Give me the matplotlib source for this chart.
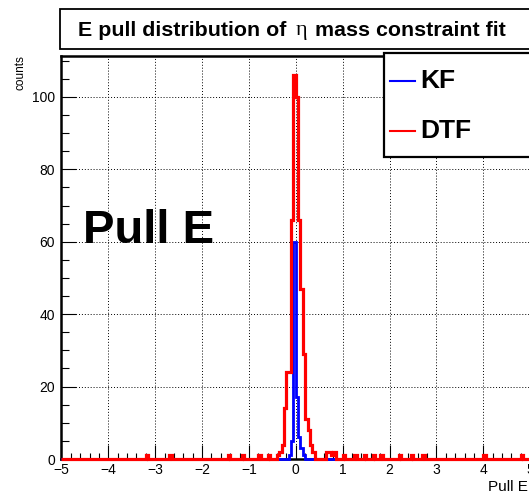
import numpy as np
import matplotlib
matplotlib.use("Agg")
import matplotlib.pyplot as plt
from matplotlib.patches import Rectangle
from matplotlib.lines import Line2D
from matplotlib.ticker import MultipleLocator

plt.rcParams['font.family'] = ['Liberation Sans', 'DejaVu Sans']

# histogram binning: 200 bins of 0.05 between -5 and 5
x_lo, x_hi, n_bins = -5.0, 5.0, 200

# DTF (red): lower edge of every non-empty bin and its count
dtf_lo = [-3.2, -2.7, -1.45, -1.15, -0.8, -0.6, -0.4, -0.35, -0.3, -0.25, -0.2, -0.15,
          -0.1, -0.05, 0.0, 0.05, 0.1, 0.15, 0.2, 0.25, 0.3, 0.35, 0.65, 0.7, 0.75,
          0.8, 1.0, 1.25, 1.45, 1.65, 1.8, 2.2, 2.45, 2.7, 4.0, 4.8]
dtf_n = [1, 1, 1, 1, 1, 1, 1, 2, 4, 14, 24, 24,
         66, 106, 100, 66, 47, 29, 11, 8, 4, 2, 2, 2, 1,
         2, 1, 1, 1, 1, 1, 1, 1, 1, 1, 1]

# KF (blue)
kf_lo = [-0.15, -0.1, -0.05, 0.0, 0.05, 0.1, 0.15]
kf_n = [1, 5, 60, 17, 6, 3, 1]

W, H = 529, 494


def fx(px):
    return px / W


def fy(py):
    return 1 - py / H


def fill_bins(lo, n):
    counts = np.zeros(n_bins)
    idx = np.round((np.array(lo) - x_lo) / (x_hi - x_lo) * n_bins).astype(int)
    counts[idx] = n
    return counts


edges = np.linspace(x_lo, x_hi, n_bins + 1)
dtf = fill_bins(dtf_lo, dtf_n)
kf = fill_bins(kf_lo, kf_n)

fig = plt.figure(figsize=(W / 100, H / 100), dpi=100)
ax = fig.add_axes([fx(61.4), fy(459), (530.2 - 61.4) / W, (459 - 56) / H])

# red drawn last so its empty bins cover the blue baseline
ax.stairs(kf, edges, color='blue', lw=2.0, zorder=3, clip_on=False)
ax.stairs(dtf, edges, color='red', lw=2.3, zorder=4, clip_on=False)

ax.set_xlim(x_lo, x_hi)
ax.set_ylim(0, 1.05 * max(dtf))
ax.xaxis.set_major_locator(MultipleLocator(1))
ax.xaxis.set_minor_locator(MultipleLocator(0.2))
ax.yaxis.set_major_locator(MultipleLocator(20))
ax.yaxis.set_minor_locator(MultipleLocator(5))
ax.grid(True, which='major', color='black', linestyle=(0, (1, 2)), lw=0.7)
ax.set_axisbelow(True)

ax.tick_params(axis='x', which='major', direction='in', length=10, width=0.8, pad=3, labelsize=10)
ax.tick_params(axis='x', which='minor', direction='in', length=4.3, width=0.8)
ax.tick_params(axis='y', which='major', direction='in', length=11, width=0.8, pad=4.5, labelsize=10)
ax.tick_params(axis='y', which='minor', direction='in', length=5.5, width=0.8)
for s in ax.spines.values():
    s.set_linewidth(1.8)

# axis titles, ROOT style
fig.text(fx(20), fy(55), 'counts', rotation=90, ha='center', va='top', fontsize=8.5)
fig.text(fx(528), fy(491), 'Pull E', ha='right', va='baseline', fontsize=11)

# big label inside the pad
fig.text(fx(83), fy(243), 'Pull E', fontsize=34, fontweight='bold', va='baseline')

# title box
fig.add_artist(Rectangle((fx(60), fy(49)), (560 - 60) / W, 40 / H, transform=fig.transFigure,
                         facecolor='white', edgecolor='black', lw=1.3, zorder=5))
renderer = fig.canvas.get_renderer()
t1 = fig.text(fx(77.7), fy(30.5), 'E pull distribution of', fontsize=15.4, fontweight='bold',
              va='center', zorder=6)
x1 = t1.get_window_extent(renderer).x1
t2 = fig.text((x1 + 10) / W, fy(30.5), '\u03b7', fontsize=16, family='Liberation Serif',
              va='center', zorder=6)
x2 = t2.get_window_extent(renderer).x1
fig.text((x2 + 7) / W, fy(30.5), 'mass constraint fit', fontsize=15.4, fontweight='bold',
         va='center', zorder=6)

# legend box
fig.add_artist(Rectangle((fx(384), fy(157)), (560 - 384) / W, (157 - 53) / H,
                         transform=fig.transFigure, facecolor='white', edgecolor='black',
                         lw=1.6, zorder=5))
for lab, col, yy in [('KF', 'blue', 81), ('DTF', 'red', 131)]:
    fig.add_artist(Line2D([fx(390), fx(415)], [fy(yy), fy(yy)], transform=fig.transFigure,
                          color=col, lw=1.5, zorder=6))
    fig.text(fx(420), fy(yy), lab, fontsize=19, fontweight='bold', va='center', zorder=6)

fig.savefig('out.png', dpi=100)
